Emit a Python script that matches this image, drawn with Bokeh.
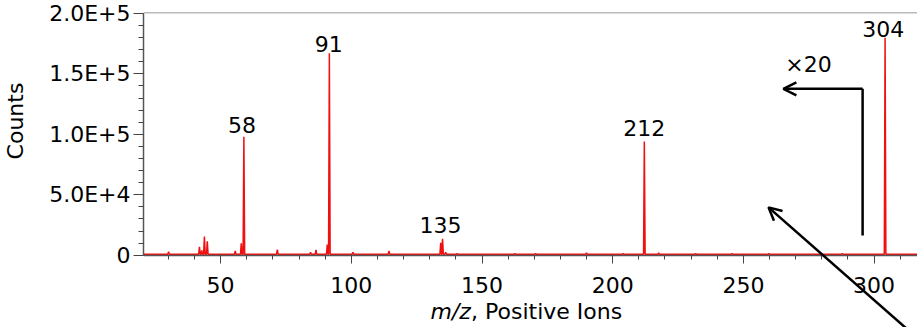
from bokeh.plotting import figure
from bokeh.models import (Range1d, Label, Arrow, OpenHead, Span, FixedTicker,
                          ColumnDataSource)
from bokeh.embed import file_html
from bokeh.resources import INLINE
from bokeh.core.properties import value

# ---- data ----
peak_mz = [30.1, 41.9, 42.8, 43.8, 44.9, 55.6, 57.9, 58.9, 71.7, 84.4, 86.5,
           90.8, 91.6, 100.6, 114.4, 134.2, 134.9, 136.1, 140.5, 162.5, 170.5,
           190.0, 204.0, 212.1, 217.6, 231.7, 245.7, 259.7, 287.8, 304.2]
peak_counts = [2800, 6900, 4000, 15500, 11600, 3600, 9900, 98000, 4700, 2500, 4500,
               8800, 167000, 2500, 3600, 10300, 13600, 2500, 1500, 1500, 1500,
               2000, 1500, 94000, 2000, 1500, 1500, 1500, 1500, 180000]
baseline_counts = 700
mz_min, mz_max = 20.0, 320.0

label_text = ["58", "91", "135", "212", "304"]
label_mz = [58.2, 91.4, 134.1, 212.1, 303.5]
label_counts = [100300, 167700, 17700, 97500, 180100]

y_ticks = [0, 50000, 100000, 150000, 200000]
y_tick_labels = ["0", "5.0E+4", "1.0E+5", "1.5E+5", "2.0E+5"]
y_minor = list(range(0, 200001, 10000))
x_ticks = [50, 100, 150, 200, 250, 300]
x_minor = list(range(30, 330, 10))

FONT = "DejaVu Sans"
FS = "22px"
RED = "#f01010"

# ---- build stick spectrum line from peak data ----
half_w = 0.3
xs = [mz_min]
ys = [baseline_counts]
for mz, c in sorted(zip(peak_mz, peak_counts)):
    xs += [mz - half_w, mz, mz + half_w]
    ys += [baseline_counts, c, baseline_counts]
xs.append(mz_max)
ys.append(baseline_counts)
src = ColumnDataSource(dict(x=xs, y=ys))

# frame runs to the bottom of the page; the x axis sits at counts = 0
p = figure(width=917, height=327, output_backend="svg", toolbar_location=None,
           x_range=Range1d(20.5, 316.6), y_range=Range1d(-59800, 200800),
           min_border_left=143, min_border_right=0, min_border_top=12,
           min_border_bottom=0)
p.background_fill_color = "white"
p.border_fill_color = "white"
p.outline_line_color = None
p.grid.visible = False

p.line("x", "y", source=src, line_color=RED, line_width=1.5)

p.text(x=label_mz, y=label_counts, text=label_text, text_align="center",
       text_baseline="alphabetic", text_font=value(FONT), text_font_size=FS,
       text_color="black", y_offset=-9)

# top frame line
p.add_layout(Span(location=200800, dimension="width", line_color="#777777",
                  line_width=1.5))

# axes
ya = p.yaxis[0]
ya.ticker = FixedTicker(ticks=y_ticks, minor_ticks=y_minor)
ya.bounds = (0, 200000)
ya.major_label_overrides = {t: l for t, l in zip(y_ticks, y_tick_labels)}
ya.axis_label = "\u00a0" * 14 + "Counts"
ya.axis_label_text_font = FONT
ya.axis_label_text_font_size = FS
ya.axis_label_text_font_style = "normal"
ya.axis_label_text_color = "black"
ya.axis_label_standoff = 18
ya.major_label_standoff = 3
ya.major_tick_out = 10
ya.minor_tick_out = 5

xa = p.xaxis[0]
xa.ticker = FixedTicker(ticks=x_ticks, minor_ticks=x_minor)
xa.fixed_location = 0
xa.major_label_standoff = 14
xa.major_tick_out = 8
xa.minor_tick_out = 4

for ax in (xa, ya):
    ax.axis_line_color = "#555555"
    ax.axis_line_width = 1.5
    ax.major_tick_line_color = "#444444"
    ax.minor_tick_line_color = "#444444"
    ax.major_tick_in = 0
    ax.minor_tick_in = 0
    ax.major_label_text_font = FONT
    ax.major_label_text_font_size = FS
    ax.major_label_text_color = "black"

# x axis title with italic m/z
p.add_layout(Label(x=130.3, y=-46600, text="m/z", text_font=FONT, text_font_size=FS,
                   text_font_style="italic", text_align="left", text_color="black",
                   text_baseline="alphabetic"))
p.add_layout(Label(x=145.8, y=-46600, text=", Positive Ions", text_font=FONT,
                   text_color="black", text_font_size=FS, text_align="left",
                   text_baseline="alphabetic"))

# x20 annotation
p.add_layout(Label(x=274.9, y=158000, text="\u00d720", text_font=FONT,
                   text_color="black", text_font_size=FS, text_align="center",
                   text_baseline="alphabetic"))
p.add_layout(Arrow(end=None, x_start=295.6, y_start=16300, x_end=295.6, y_end=137700,
                   line_width=2.5, line_color="black"))
p.add_layout(Arrow(end=OpenHead(size=13, line_width=2.5, line_color="black"),
                   x_start=295.6, y_start=137700, x_end=265.3, y_end=137700,
                   line_width=2.5, line_color="black"))
p.add_layout(Arrow(end=OpenHead(size=13, line_width=2.5, line_color="black"),
                   x_start=313.2, y_start=-62200, x_end=259.6, y_end=39600,
                   line_width=2.5, line_color="black"))

open("out.html", "w").write(file_html(p, INLINE))
